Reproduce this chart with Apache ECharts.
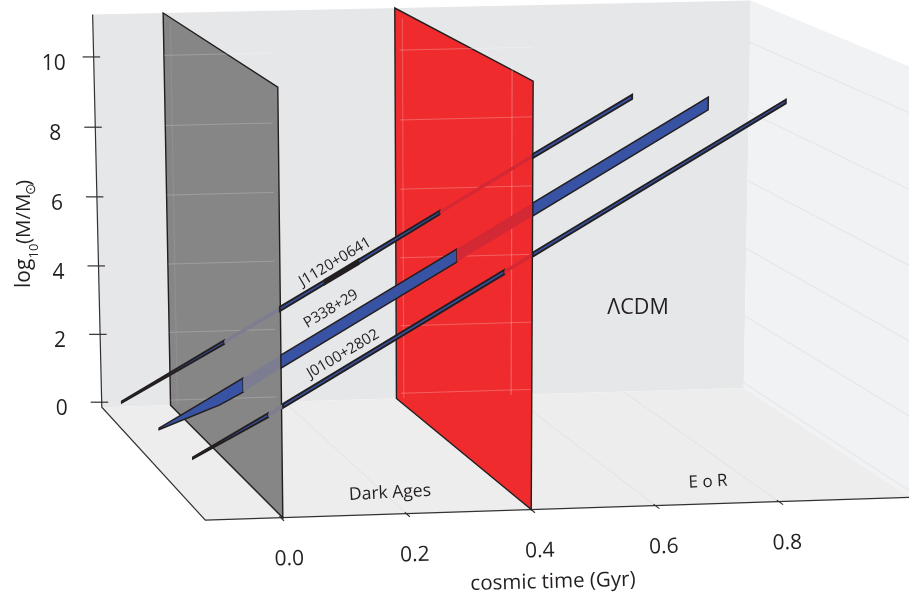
<!DOCTYPE html>
<html><head><meta charset="utf-8"><script src="https://cdn.jsdelivr.net/npm/echarts@6/dist/echarts.min.js"></script></head>
<body style="margin:0;background:#fff"><div id="chart" style="width:909px;height:598px"></div>
<script>
// ---- values ----
const timeTicks = [0, 0.2, 0.4, 0.6, 0.8];
const timeTickLabels = ['0.0', '0.2', '0.4', '0.6', '0.8'];
const massTicks = [0, 2, 4, 6, 8, 10];
const darkAgesEnd = 0;
const reionisationStart = 0.4;

const j1120Time = [-0.150, 0.023, 0.117, 0.193, 0.249, 0.386, 0.542, 0.708];
const j1120Low  = [1.21, 2.79, 3.67, 4.40, 4.93, 6.27, 7.77, 9.34];
const j1120High = [1.25, 2.89, 3.79, 4.51, 5.05, 6.37, 7.88, 9.46];

const p338Time = [-0.114, -0.013, 0.026, 0.089, 0.381, 0.507, 0.796];
const p338Low  = [0.89, 1.53, 1.87, 2.51, 5.32, 6.54, 9.33];
const p338High = [0.93, 1.89, 2.26, 2.87, 5.68, 6.90, 9.68];

const j0100Time = [-0.108, 0.014, 0.038, 0.395, 0.441, 0.846];
const j0100Low  = [0.96, 2.03, 2.27, 5.72, 6.17, 10.09];
const j0100High = [1.00, 2.14, 2.38, 5.83, 6.28, 10.19];

// ---- 3D box and camera ----
const T0 = -0.12, T1 = 1.015, FLOOR = -0.15, TOP = 11.2;
const CAM = [[633.337, -92.882, -1.112, 280.878], [-13.269, -70.859, -38.160, 512.2], [0.013810, 0.102954, -0.002402, 1]];
function project(t, d, m) {
  const w = CAM[2][0]*t + CAM[2][1]*d + CAM[2][2]*m + CAM[2][3];
  return [(CAM[0][0]*t + CAM[0][1]*d + CAM[0][2]*m + CAM[0][3]) / w,
          (CAM[1][0]*t + CAM[1][1]*d + CAM[1][2]*m + CAM[1][3]) / w];
}
const INK = '#231f20', BLUE = '#3953a4', FONT = '"Open Sans"';

const bands = [
  {name: 'J1120+0641', depth: 0.6, edge: 1.9, time: j1120Time, low: j1120Low, high: j1120High,
   parts: [[0,1,'solid'],[1,2,'gray'],[2,3,'solid'],[3,4,'dense'],[4,5,'solid'],[5,6,'red'],[6,7,'solid']]},
  {name: 'P338+29', depth: 0.45, edge: 1.5, time: p338Time, low: p338Low, high: p338High,
   parts: [[0,2,'solid'],[2,3,'gray'],[3,4,'solid'],[4,5,'red'],[5,6,'solid']]},
  {name: 'J0100+2802', depth: 0.17, edge: 1.9, time: j0100Time, low: j0100Low, high: j0100High,
   parts: [[0,1,'solid'],[1,2,'gray'],[2,3,'solid'],[3,4,'red'],[4,5,'solid']]}
];
const partStyle = {
  solid: (w) => ({fill: BLUE, stroke: INK, lineWidth: w, lineJoin: 'miter'}),
  dense: () => ({fill: INK, stroke: INK, lineWidth: 2.4}),
  gray: () => ({fill: '#7c7d90'}),
  red: () => ({fill: '#d42835'})
};

function layer(name, items, z) {
  return {
    type: 'custom', name, coordinateSystem: 'cartesian2d', silent: true, clip: false, z,
    data: items.map((_, i) => [i, 0]),
    renderItem(params, api) {
      const at = (p) => api.coord(p);
      const xyz = (t, d, m) => at(project(t, d, m));
      return items[params.dataIndex](xyz, at);
    }
  };
}
const poly = (pts, style) => ({type: 'polygon', shape: {points: pts}, style});
const line = (pts, stroke, lineWidth) => ({type: 'polyline', shape: {points: pts}, style: {fill: 'none', stroke, lineWidth}});
function label(text, p, size, rot, extra) {
  const a = (extra && extra.align) || 'center';
  return {type: 'text', x: p[0], y: p[1], rotation: (rot || 0) * Math.PI / 180,
    style: Object.assign({text, fontFamily: FONT, fontSize: size, fill: INK, align: a, textAlign: a,
      verticalAlign: 'middle', textVerticalAlign: 'middle'}, extra || {})};
}

// walls
const walls = [
  (g) => poly([g(T0,1,FLOOR), g(T1,1,FLOOR), g(T1,1,TOP), g(T0,1,TOP)], {fill: '#e6e7e9'}),
  (g) => poly([g(T1,1,FLOOR), g(T1,-0.1,FLOOR), g(T1,-0.1,TOP), g(T1,1,TOP)], {fill: '#f1f2f4'}),
  (g) => poly([g(T0,1,FLOOR), g(T1,1,FLOOR), g(T1,0,FLOOR), g(T0,0,FLOOR)], {fill: '#ededed'})
];
massTicks.forEach(m => walls.push((g) => line([g(T1,1,m), g(T1,-0.1,m)], '#e6e7ea', 1.2)));
timeTicks.forEach(t => walls.push((g) => line([g(t,1,FLOOR), g(t,0,FLOOR)], '#e2e2e2', 1)));

// axes frame and ticks
const frame = [
  (g) => line([g(T0,1,TOP), g(T0,1,FLOOR), g(T0,0,FLOOR), g(T1,0,FLOOR)], '#333132', 1.2)
];
massTicks.forEach(m => frame.push((g, at) => {
  const [x, y] = project(T0, 1, m);
  return line([at([x - 11, y]), at([x + 6.5, y])], '#333132', 1.2);
}));
massTicks.forEach(m => frame.push((g, at) => {
  const [x, y] = project(T0, 1, m);
  return label(String(m), at([x - 40, y + 7]), 21);
}));
timeTicks.forEach(t => frame.push((g) => line([g(t,0.012,FLOOR), g(t,-0.025,FLOOR)], '#333132', 1.2)));
timeTicks.forEach((t, i) => frame.push((g, at) => {
  const [x, y] = project(t, 0, FLOOR);
  return label(timeTickLabels[i], at([x + 8.5, y + 41.5]), 21, 1.5);
}));

// the two epoch planes
const plane = (t, backShift, frontShift, fill) => (g) => poly(
  [g(t + backShift,1,FLOOR), g(t + frontShift,0,FLOOR), g(t + frontShift,0,TOP), g(t + backShift,1,TOP)],
  {fill, stroke: INK, lineWidth: 1.4, lineJoin: 'miter'});
const planes = [plane(reionisationStart, -0.003, 0, '#ef2b2d'), plane(darkAgesEnd, 0, 0.003, '#868686')];

// back-wall grid seen through the planes
const through = [];
[[0.0, 0.185, 'rgba(255,255,255,0.2)'], [0.405, 0.635, 'rgba(255,255,255,0.25)']].forEach(([a, b, c]) => {
  massTicks.forEach(m => through.push((g) => line([g(a,1,m), g(b,1,m)], c, 1)));
});
[[0.012, 10.9, 'rgba(255,255,255,0.08)'], [0.41, 10.9, 'rgba(255,255,255,0.2)'], [0.6, 9.6, 'rgba(255,255,255,0.25)']].forEach(([t, top, c]) => {
  through.push((g) => line([g(t,1,FLOOR), g(t,1,top)], c, 1.2));
});

// bands
const bandSeries = bands.map((b) => {
  const items = b.parts.map(([i0, i1, kind]) => (g) => {
    const up = [], dn = [];
    for (let i = i0; i <= i1; i++) { up.push(g(b.time[i], b.depth, b.high[i])); dn.unshift(g(b.time[i], b.depth, b.low[i])); }
    return poly(up.concat(dn), partStyle[kind](b.edge));
  });
  return layer(b.name, items, 5);
});

// texts
const texts = [
  (g, at) => label('J1120+0641', at([335, 262]), 15, 31),
  (g, at) => label('P338+29', at([331, 309]), 15, 31),
  (g, at) => label('J0100+2802', at([343, 354]), 15, 31),
  (g, at) => label('\u039BCDM', at([638, 308]), 21.5),
  (g, at) => label('Dark Ages', at([390, 493]), 17.5, 3),
  (g, at) => label('E o R', at([708, 482]), 17, 3),
  (g, at) => label('cosmic time (Gyr)', at([553, 582]), 20.5, 1.5),
  (g, at) => label('log', at([24, 288]), 21, 90, {align: 'left'}),
  (g, at) => label('10', at([34, 251]), 13, 90),
  (g, at) => label('(M/M', at([24, 244]), 20.5, 90, {align: 'left'}),
  (g, at) => label('\u2299', at([31, 189]), 14, 90),
  (g, at) => label(')', at([24, 186]), 20.5, 90, {align: 'left'})
];

echarts.init(document.getElementById('chart')).setOption({
  animation: false,
  backgroundColor: '#fff',
  grid: {left: 0, right: 0, top: 0, bottom: 0},
  xAxis: {type: 'value', min: 0, max: 909, show: false},
  yAxis: {type: 'value', min: 0, max: 598, inverse: true, show: false},
  series: [layer('walls', walls, 1), layer('frame', frame, 2), layer('planes', planes, 3), layer('through', through, 4)]
    .concat(bandSeries, [layer('texts', texts, 6)])
});
</script></body></html>
